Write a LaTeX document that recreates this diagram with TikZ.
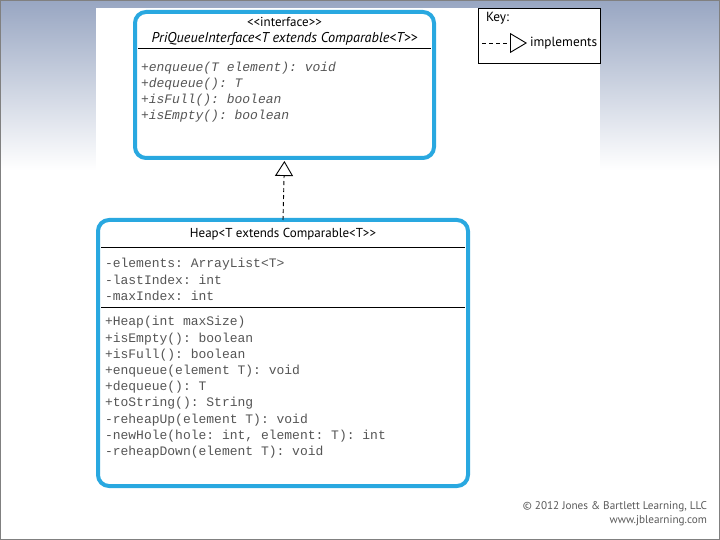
\documentclass[tikz,border=0pt]{standalone}
\usepackage{fontspec}
\setsansfont{PT Sans}
\setmonofont{Liberation Mono}
\usepackage{tikz}
\usetikzlibrary{positioning, arrows.meta, calc}
\definecolor{umlblue}{RGB}{41,168,224}
\definecolor{slidetop}{RGB}{152,166,194}
\definecolor{codegray}{RGB}{85,85,85}
\definecolor{notegray}{RGB}{90,90,90}

\begin{document}
\begin{tikzpicture}[
    x=1pt, y=-1pt,
    every node/.style={inner sep=0pt, outer sep=0pt},
    umlbox/.style  ={draw=umlblue, line width=4pt, rounded corners=11pt, fill=white},
    title/.style   ={font=\sffamily\fontsize{13}{15}\selectfont},
    ititle/.style  ={font=\sffamily\itshape\fontsize{14.2}{16}\selectfont},
    members/.style ={font=\ttfamily\fontsize{13}{16.2}\selectfont, text=codegray, align=left, anchor=north west},
    imembers/.style={members, font=\ttfamily\itshape\fontsize{13}{16}\selectfont},
    sepline/.style ={line width=0.8pt, shorten <=3pt, shorten >=3pt},
    realize/.style ={dash pattern=on 4pt off 3pt, line width=0.9pt, -{Triangle[open, length=15pt, width=18pt, line width=0.9pt]}}
]
\useasboundingbox (0,0) rectangle (720,540);

% slide background
\shade[top color=slidetop, bottom color=white] (0,0) rectangle (720,170);
\fill[white] (96,8) rectangle (600,170);
\draw[gray, line width=1.5pt] (0,0) rectangle (720,540);

% Interface box
\node[umlbox, minimum width=299pt, minimum height=146pt] (iface) at (284.5,85) {};
\node[title] (ifacestereo) at (284.5,22) {<{}<interface>{}>};
\node[ititle] (ifacename) at (284.5,39) {PriQueueInterface<T extends Comparable<T>{}>};
\draw[sepline] (iface.west |- 0,48) -- (iface.east |- 0,48);
\node[imembers] (ifaceops) at (141,62.5)
  {+enqueue(T element): void\\+dequeue(): T\\+isFull(): boolean\\+isEmpty(): boolean};

% Heap class box
\node[umlbox, minimum width=370pt, minimum height=266pt] (heap) at (283,353) {};
\node[title] (heapname) at (283,234) {Heap<T extends Comparable<T>{}>};
\draw[sepline] (heap.west |- 0,247) -- (heap.east |- 0,247);
\node[members] (heapattrs) at (105,258.5)
  {-elements: ArrayList<T>\\-lastIndex: int\\-maxIndex: int};
\draw[sepline] (heap.west |- 0,307) -- (heap.east |- 0,307);
\node[members] (heapops) at (105,316.5)
  {+Heap(int maxSize)\\+isEmpty(): boolean\\+isFull(): boolean\\+enqueue(element T): void\\+dequeue(): T\\+toString(): String\\-reheapUp(element T): void\\-newHole(hole: int, element: T): int\\-reheapDown(element T): void};

% Heap implements the interface
\draw[realize, shorten >=3pt] (heap.north) -- (iface.south);

% Key
\node[draw, line width=0.8pt, fill=white, minimum width=122pt, minimum height=55pt] (key) at (539,35.5) {};
\node[title, font=\sffamily\fontsize{13.3}{15}\selectfont, anchor=north west] (keylabel) at (486,12) {Key:};
\coordinate (keyfrom) at (482,43);
\coordinate (keyto) at (527,43);
\draw[realize, -{Triangle[open, length=17pt, width=20pt, line width=0.9pt]}] (keyfrom) -- (keyto);
\node[title, font=\sffamily\fontsize{13.3}{15}\selectfont, anchor=west] (keyimpl) at (530,43) {implements};

% credit line
\node[font=\sffamily\fontsize{11.2}{14}\selectfont, text=notegray, align=right, anchor=north east] (credit) at (707,502)
  {© 2012 Jones \& Bartlett Learning, LLC\\www.jblearning.com};

\end{tikzpicture}
\end{document}
